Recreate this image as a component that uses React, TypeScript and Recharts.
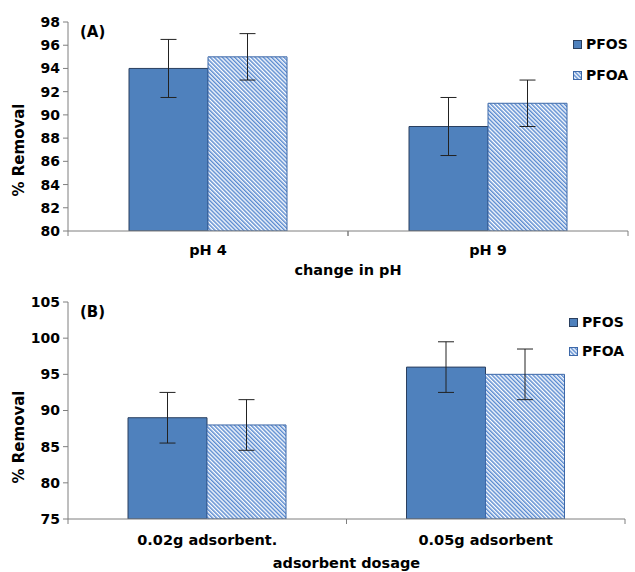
import { BarChart, Bar, XAxis, YAxis, ErrorBar, Legend } from "recharts";

const PH_LABELS = ["pH 4", "pH 9"];
const PH_PFOS = [94, 89];
const PH_PFOS_ERR = [2.5, 2.5];
const PH_PFOA = [95, 91];
const PH_PFOA_ERR = [2, 2];
const PH_TICKS = [80, 82, 84, 86, 88, 90, 92, 94, 96, 98];

const DOSE_LABELS = ["0.02g adsorbent.", "0.05g adsorbent"];
const DOSE_PFOS = [89, 96];
const DOSE_PFOS_ERR = [3.5, 3.5];
const DOSE_PFOA = [88, 95];
const DOSE_PFOA_ERR = [3.5, 3.5];
const DOSE_TICKS = [75, 80, 85, 90, 95, 100, 105];

const SERIES = ["PFOS", "PFOA"];

const FONT = "'DejaVu Sans', Verdana, sans-serif";
const BLUE = "#4F81BD";
const AXIS = "#7f7f7f";

const phData = PH_LABELS.map((name, i) => ({
  name,
  PFOS: PH_PFOS[i],
  pfosErr: PH_PFOS_ERR[i],
  PFOA: PH_PFOA[i],
  pfoaErr: PH_PFOA_ERR[i],
}));

const doseData = DOSE_LABELS.map((name, i) => ({
  name,
  PFOS: DOSE_PFOS[i],
  pfosErr: DOSE_PFOS_ERR[i],
  PFOA: DOSE_PFOA[i],
  pfoaErr: DOSE_PFOA_ERR[i],
}));

function LegendBox({ payload, gap }: { payload?: any[]; gap: number }) {
  const items = [...(payload ?? [])].sort((a, b) => SERIES.indexOf(a.value) - SERIES.indexOf(b.value));
  return (
    <div style={{ fontFamily: FONT, fontWeight: 700, fontSize: 14, color: "#000" }}>
      {items.map((p, i) => (
        <div key={p.value} style={{ display: "flex", alignItems: "center", height: 18, marginTop: i ? gap - 18 : 0 }}>
          <svg width={9} height={9} style={{ marginRight: 4 }}>
            <rect
              x={0.5}
              y={0.5}
              width={8}
              height={8}
              fill={p.value === "PFOS" ? BLUE : "url(#hatch)"}
              stroke={p.value === "PFOS" ? "#2a3f5f" : "#3d68a8"}
            />
          </svg>
          <span>{p.value}</span>
        </div>
      ))}
    </div>
  );
}

function yLabel(cy: number) {
  return () => (
    <text
      x={24}
      y={cy}
      transform={`rotate(-90, 24, ${cy})`}
      textAnchor="middle"
      fontFamily={FONT}
      fontWeight={700}
      fontSize={15}
      fill="#000"
    >
      % Removal
    </text>
  );
}

// category label plus Excel-style tick marks between categories
function CatTick(props: any) {
  const { x, y, payload, labelDy } = props;
  const half = payload?.offset ?? 0;
  return (
    <g>
      <line x1={x - half} y1={y} x2={x - half} y2={y + 5} stroke={AXIS} />
      <line x1={x + half} y1={y} x2={x + half} y2={y + 5} stroke={AXIS} />
      <text x={x} y={y + labelDy} textAnchor="middle" fontFamily={FONT} fontWeight={700} fontSize={14.5} fill="#000">
        {payload.value}
      </text>
    </g>
  );
}

function Panel({
  data,
  ticks,
  domain,
  title,
  xTitle,
  height,
  top,
  right,
  layout,
  labelY,
  legendTop,
  legendLeft,
  legendGap,
  withDefs,
}: any) {
  const tickStyle = { fontFamily: FONT, fontWeight: 700, fontSize: 14, fill: "#000" };
  return (
    <div style={{ position: "absolute", left: 0, top, width: 635, height }}>
      <BarChart
        width={635}
        height={height}
        data={data}
        margin={{ top: layout.top, right, left: 0, bottom: 0 }}
        barGap={0}
        barSize={79}
      >
        {withDefs && (
          <defs>
            <pattern id="hatch" width={2.9} height={2.9} patternUnits="userSpaceOnUse" patternTransform="rotate(-45)">
              <rect width={2.9} height={2.9} fill="#ffffff" />
              <rect width={1.5} height={2.9} fill="#5b8bd0" />
            </pattern>
          </defs>
        )}
        <XAxis
          dataKey="name"
          height={layout.axis}
          stroke={AXIS}
          tickLine={false}
          tickSize={0}
          tickMargin={0}
          tick={<CatTick labelDy={layout.labelDy} />}
          label={{
            value: xTitle,
            position: "insideBottom",
            offset: layout.labelOffset,
            style: { fontFamily: FONT, fontWeight: 700, fontSize: 14.5, fill: "#000" },
          }}
        />
        <YAxis
          width={68}
          domain={domain}
          ticks={ticks}
          interval={0}
          tick={tickStyle}
          tickSize={5}
          tickMargin={3}
          stroke={AXIS}
          allowDataOverflow
          label={{ content: yLabel(labelY) }}
        />
        <Legend
          layout="vertical"
          align="center"
          verticalAlign="middle"
          wrapperStyle={{ left: legendLeft, top: legendTop, width: "auto" }}
          content={(props: any) => <LegendBox payload={props.payload} gap={legendGap} />}
        />
        <Bar dataKey="PFOS" fill={BLUE} stroke="#2a3f5f" strokeWidth={1} isAnimationActive={false}>
          <ErrorBar dataKey="pfosErr" width={8} stroke="#222" strokeWidth={1} isAnimationActive={false} />
        </Bar>
        <Bar dataKey="PFOA" fill="url(#hatch)" stroke="#3d68a8" strokeWidth={1} isAnimationActive={false}>
          <ErrorBar dataKey="pfoaErr" width={8} stroke="#222" strokeWidth={1} isAnimationActive={false} />
        </Bar>
      </BarChart>
      <div
        style={{
          position: "absolute",
          left: 80,
          top: layout.top + 1,
          fontFamily: FONT,
          fontWeight: 700,
          fontSize: 15,
        }}
      >
        {title}
      </div>
    </div>
  );
}

export default function App() {
  return (
    <div style={{ position: "absolute", left: 0, top: 0, width: 635, height: 572, background: "#fff", overflow: "hidden" }}>
      <Panel
        data={phData}
        ticks={PH_TICKS}
        domain={[80, 98]}
        title="(A)"
        xTitle="change in pH"
        height={282}
        top={0}
        right={7}
        layout={{ top: 22, axis: 51, labelOffset: 7, labelDy: 24 }}
        labelY={150}
        legendTop={35}
        legendLeft={573}
        legendGap={31}
        withDefs
      />
      <Panel
        data={doseData}
        ticks={DOSE_TICKS}
        domain={[75, 105]}
        title="(B)"
        xTitle="adsorbent dosage"
        height={290}
        top={282}
        right={10}
        layout={{ top: 20, axis: 53, labelOffset: 4, labelDy: 26 }}
        labelY={155}
        legendTop={31}
        legendLeft={569}
        legendGap={29}
      />
    </div>
  );
}
